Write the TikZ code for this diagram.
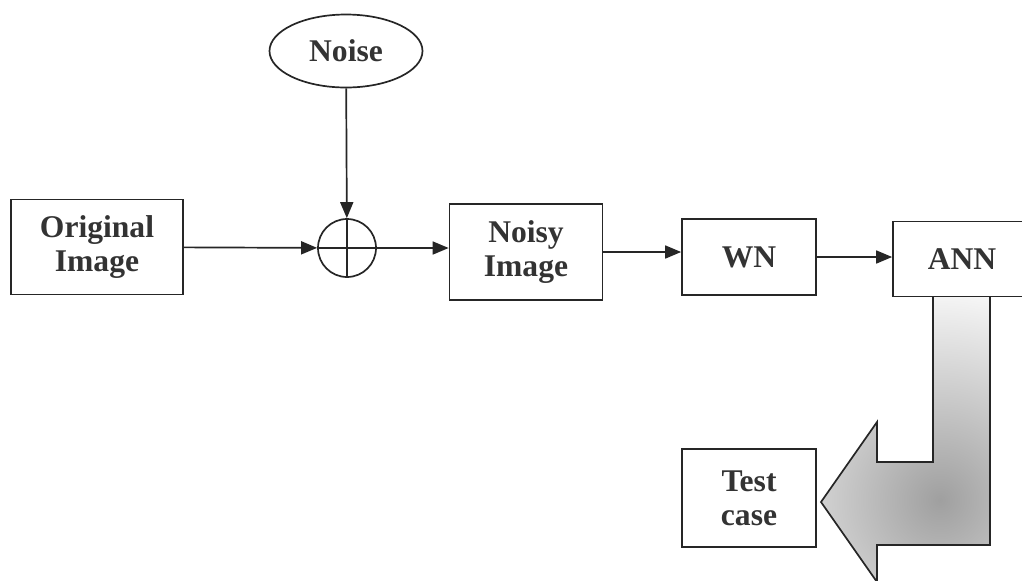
\documentclass[tikz,border=0pt]{standalone}
\usepackage{fontspec}
\setmainfont{Liberation Serif}
\usetikzlibrary{arrows.meta,shapes.geometric}

\begin{document}
\begin{tikzpicture}[x=0.5pt,y=-0.5pt,>={Triangle[length=8pt,width=6.5pt]},
    line width=0.85pt,draw=black!85,text=black!80,
    font=\bfseries\fontsize{15.8}{17}\selectfont]
  \tikzstyle{block}=[draw,rectangle,align=center,inner sep=0pt]
  \tikzstyle{adder}=[draw,circle,minimum size=29pt,inner sep=0pt]
  \useasboundingbox (0,0) rectangle (1022,580);

  \node[block,minimum width=86pt,minimum height=47.5pt]   (orig)  at (97,247)  {Original\\Image};
  \node[draw,ellipse,minimum width=76.5pt,minimum height=36.5pt,inner sep=0pt] (noise) at (346,51) {Noise};
  \node[adder]                                            (sum)   at (347,248) {};
  \node[block,minimum width=76.5pt,minimum height=48pt]    (noisy) at (526,252) {Noisy\\Image};
  \node[block,minimum width=67pt,minimum height=38pt]     (wn)    at (749,257) {WN};
  \node[block,minimum width=69pt,minimum height=37.5pt]   (ann)   at (962,259) {ANN};
  \node[block,minimum width=67pt,minimum height=49pt]     (test)  at (749,498) {Test\\case};

  % cross inside the adder
  \draw (sum.north) -- (sum.south) (sum.west) -- (sum.east);

  \path[->,draw=black!85] (orig)  edge (sum)
            (noise) edge (sum)
            (sum)   edge (noisy.west |- sum)
            (noisy) edge (wn.west |- noisy)
            (wn)    edge (ann.west |- wn);

  % big shaded arrow from ANN to the test case
  \begin{scope}
    \clip (933,297) -- (933,462) -- (877,462) -- (877,422) -- (821,502)
          -- (877,582) -- (877,545) -- (990,545) -- (990,297) -- cycle;
    \shade[inner color=gray!75,outer color=white] (940,500) circle[radius=115pt];
  \end{scope}
  \draw (933,297) -- (933,462) -- (877,462) -- (877,422) -- (821,502)
        -- (877,582) -- (877,545) -- (990,545) -- (990,297);
\end{tikzpicture}
\end{document}
